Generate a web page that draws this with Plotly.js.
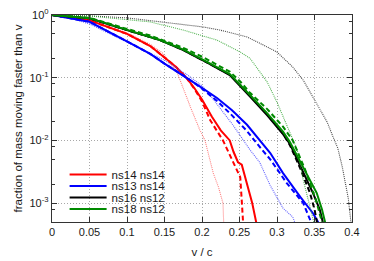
<!DOCTYPE html>
<html>
<head>
<meta charset="utf-8">
<script src="https://cdn.plot.ly/plotly-3.0.1.min.js"></script>
<style>html,body{margin:0;padding:0;background:#fff}#chart{width:374px;height:261px}</style>
</head>
<body>
<div id="chart"></div>
<script>
// ---- data ----
const models = ["ns14 ns14", "ns13 ns14", "ns16 ns12", "ns18 ns12"];

// ns14 ns14 (red)
const redSolidV   = [0, 0.05, 0.1, 0.131, 0.15, 0.165, 0.18, 0.19, 0.2, 0.213, 0.225, 0.237, 0.242, 0.248, 0.253, 0.26, 0.267, 0.273];
const redSolidY   = [1, 0.82, 0.5, 0.32, 0.21, 0.15, 0.098, 0.068, 0.045, 0.024, 0.0145, 0.01, 0.0066, 0.0045, 0.0041, 0.0021, 0.001, 0.00045];
const redDashV    = [0, 0.05, 0.1, 0.131, 0.15, 0.165, 0.18, 0.19, 0.2, 0.211, 0.228, 0.24, 0.251, 0.253, 0.255];
const redDashY    = [1, 0.82, 0.5, 0.32, 0.21, 0.15, 0.097, 0.066, 0.042, 0.021, 0.01, 0.0049, 0.0026, 0.0011, 0.00045];
const redDotV     = [0, 0.05, 0.1, 0.131, 0.148, 0.167, 0.185, 0.197, 0.204, 0.215, 0.222, 0.228, 0.229];
const redDotY     = [1, 0.84, 0.52, 0.34, 0.245, 0.12, 0.0331, 0.0148, 0.01, 0.00302, 0.0018, 0.001, 0.00045];

// ns13 ns14 (blue)
const blueSolidV  = [0, 0.05, 0.1, 0.131, 0.15, 0.18, 0.2, 0.22, 0.24, 0.26, 0.28, 0.291, 0.308, 0.331, 0.348, 0.357];
const blueSolidY  = [1, 0.78, 0.38, 0.24, 0.168, 0.1, 0.069, 0.0475, 0.0302, 0.0178, 0.0089, 0.00631, 0.00302, 0.00126, 0.000692, 0.00045];
const blueDashV   = [0, 0.05, 0.1, 0.131, 0.15, 0.18, 0.2, 0.22, 0.24, 0.26, 0.28, 0.291, 0.313, 0.335, 0.347];
const blueDashY   = [1, 0.78, 0.38, 0.24, 0.168, 0.1, 0.067, 0.0427, 0.0251, 0.0141, 0.0071, 0.005, 0.00209, 0.001, 0.00045];
const blueDotV    = [0, 0.03, 0.05, 0.1, 0.15, 0.18, 0.2, 0.211, 0.241, 0.264, 0.277, 0.291, 0.308, 0.321, 0.325];
const blueDotY    = [1, 0.85, 0.72, 0.37, 0.19, 0.112, 0.0745, 0.0525, 0.0178, 0.00708, 0.00447, 0.00191, 0.000832, 0.000603, 0.00045];

// ns16 ns12 (black)
const blackSolidV = [0, 0.05, 0.1, 0.131, 0.144, 0.175, 0.201, 0.237, 0.251, 0.264, 0.287, 0.308, 0.317, 0.331, 0.348, 0.357, 0.362];
const blackSolidY = [1, 0.885, 0.575, 0.447, 0.398, 0.275, 0.19, 0.11, 0.0741, 0.0501, 0.0251, 0.0126, 0.00891, 0.00398, 0.00145, 0.000794, 0.00045];
const blackDashV  = [0, 0.05, 0.1, 0.144, 0.175, 0.201, 0.237, 0.251, 0.264, 0.287, 0.308, 0.317, 0.331, 0.344, 0.35, 0.354];
const blackDashY  = [1, 0.885, 0.575, 0.398, 0.278, 0.192, 0.112, 0.077, 0.052, 0.026, 0.0128, 0.0085, 0.0036, 0.00145, 0.0008, 0.00045];
const blackDotV   = [0, 0.05, 0.1, 0.171, 0.201, 0.224, 0.26, 0.277, 0.3, 0.321, 0.335, 0.348, 0.367, 0.375, 0.381, 0.387, 0.395, 0.399];
const blackDotY   = [1, 0.97, 0.9, 0.724, 0.646, 0.575, 0.447, 0.355, 0.257, 0.148, 0.0912, 0.049, 0.0195, 0.0112, 0.00759, 0.0038, 0.0012, 0.00045];

// ns18 ns12 (green)
const greenSolidV = [0, 0.05, 0.1, 0.131, 0.144, 0.175, 0.201, 0.237, 0.251, 0.264, 0.287, 0.308, 0.317, 0.335, 0.353, 0.36, 0.365];
const greenSolidY = [1, 0.89, 0.58, 0.45, 0.4, 0.28, 0.195, 0.114, 0.078, 0.053, 0.027, 0.0138, 0.0095, 0.0038, 0.00145, 0.00079, 0.00045];
const greenDashV  = [0, 0.05, 0.1, 0.131, 0.175, 0.201, 0.237, 0.251, 0.264, 0.287, 0.308, 0.321, 0.337, 0.352, 0.361];
const greenDashY  = [1, 0.9, 0.6, 0.47, 0.3, 0.214, 0.125, 0.087, 0.0575, 0.0316, 0.0166, 0.01, 0.00355, 0.00112, 0.00045];
const greenDotV   = [0, 0.05, 0.131, 0.175, 0.22, 0.251, 0.264, 0.277, 0.287, 0.3, 0.313, 0.327, 0.335, 0.345, 0.35];
const greenDotY   = [1, 0.964, 0.776, 0.575, 0.398, 0.257, 0.204, 0.123, 0.0851, 0.0407, 0.0178, 0.00708, 0.00234, 0.0008, 0.00045];

const xTickVals = [0, 0.05, 0.1, 0.15, 0.2, 0.25, 0.3, 0.35, 0.4];
const xTickText = ["0", "0.05", "0.1", "0.15", "0.2", "0.25", "0.3", "0.35", "0.4"];
const yTickVals = [1, 0.1, 0.01, 0.001];
const yTickText = ["10<sup>0</sup>", "10<sup>-1</sup>", "10<sup>-2</sup>", "10<sup>-3</sup>"];
const yMinorVals = [0.8, 0.5, 0.2, 0.08, 0.05, 0.02, 0.008, 0.005, 0.002, 0.0008];

// ---- styling ----
const FONT = "Liberation Sans, Arial, Helvetica, sans-serif";
const TXT = "#1a1a1a";
const groups = [
  {name: models[0], solid: [redSolidV, redSolidY], dash: [redDashV, redDashY], dot: [redDotV, redDotY], c: "#ff0000", lc: "rgba(255,95,95,0.8)", leg: "legend"},
  {name: models[1], solid: [blueSolidV, blueSolidY], dash: [blueDashV, blueDashY], dot: [blueDotV, blueDotY], c: "#0000ff", lc: "rgba(70,70,255,0.85)", leg: "legend2"},
  {name: models[2], solid: [blackSolidV, blackSolidY], dash: [blackDashV, blackDashY], dot: [blackDotV, blackDotY], c: "#000000", lc: "rgba(40,40,40,0.85)", leg: "legend3"},
  {name: models[3], solid: [greenSolidV, greenSolidY], dash: [greenDashV, greenDashY], dot: [greenDotV, greenDotY], c: "#008a00", lc: "rgba(40,160,40,0.8)", leg: "legend4"}
];

const traces = [];
groups.forEach(g => {
  traces.push({x: g.dot[0], y: g.dot[1], mode: "lines", line: {color: g.lc, width: 1.1, dash: "1px,1px"}, showlegend: false, hoverinfo: "skip"});
  traces.push({x: g.dash[0], y: g.dash[1], mode: "lines", line: {color: g.c, width: 2, dash: "5px,3px"}, showlegend: false, hoverinfo: "skip"});
  traces.push({x: g.solid[0], y: g.solid[1], mode: "lines", name: g.name, line: {color: g.c, width: 2}, showlegend: true, legend: g.leg, hoverinfo: "skip"});
});

const legRowY = [0.2295, 0.174, 0.118, 0.063];
function legendAt(i) {
  return {x: 0.042, y: legRowY[i], xanchor: "left", yanchor: "middle", bgcolor: "rgba(0,0,0,0)",
          borderwidth: 0, itemwidth: 37, font: {family: FONT, size: 11.5, color: TXT}};
}

const axisCommon = {
  showline: true, linecolor: "#333", linewidth: 1.2, mirror: "allticks",
  ticks: "inside", ticklen: 5, tickcolor: "#333", tickwidth: 1,
  showgrid: true, gridcolor: "#a8a8a8", griddash: "1px,2px", gridwidth: 1,
  zeroline: false, tickfont: {family: FONT, size: 11, color: TXT}
};

const layout = {
  width: 374, height: 261,
  margin: {l: 52, r: 22, t: 15, b: 39, pad: 0},
  paper_bgcolor: "#fff", plot_bgcolor: "#fff",
  font: {family: FONT, size: 11, color: TXT},
  xaxis: Object.assign({}, axisCommon, {
    range: [0, 0.4], tickmode: "array", tickvals: xTickVals, ticktext: xTickText,
    title: {text: "v / c", font: {family: FONT, size: 11.5, color: TXT}, standoff: 10}
  }),
  yaxis: Object.assign({}, axisCommon, {
    type: "log", range: [-3.3, 0], tickmode: "array", tickvals: yTickVals, ticktext: yTickText,
    minor: {tickmode: "array", tickvals: yMinorVals, ticks: "inside", ticklen: 3, tickcolor: "#333", showgrid: false},
    title: {text: "fraction of mass moving faster than v", font: {family: FONT, size: 11.5, color: TXT}, standoff: 4}
  }),
  legend: legendAt(0), legend2: legendAt(1), legend3: legendAt(2), legend4: legendAt(3),
  showlegend: true
};

Plotly.newPlot("chart", traces, layout, {staticPlot: true, displayModeBar: false});
</script>
</body>
</html>
